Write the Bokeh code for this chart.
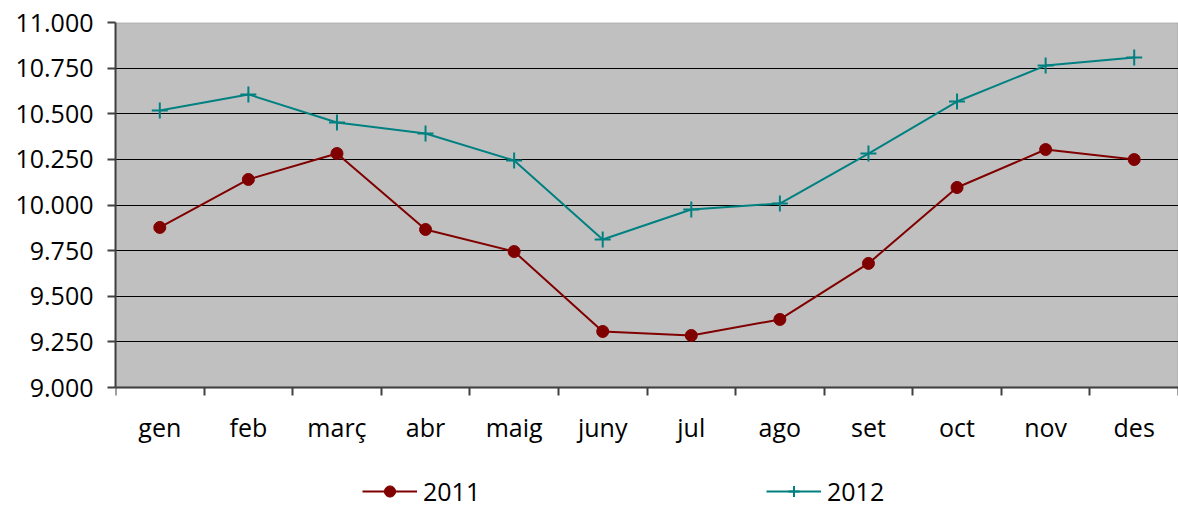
from bokeh.plotting import figure
from bokeh.models import FixedTicker, Legend, LegendItem, BoxAnnotation
from bokeh.embed import file_html
from bokeh.resources import INLINE

months = ["gen", "feb", "març", "abr", "maig", "juny", "jul", "ago", "set", "oct", "nov", "des"]
v2011 = [9877, 10140, 10282, 9866, 9745, 9307, 9285, 9373, 9680, 10096, 10304, 10249]
v2012 = [10518, 10606, 10452, 10392, 10244, 9811, 9975, 10008, 10282, 10567, 10764, 10808]
yticks = list(range(9000, 11001, 250))

x = [i + 0.5 for i in range(len(months))]
FONT = "Open Sans"
YMIN, YMAX = yticks[0], yticks[-1]
AXIS_COLOR = "#404040"

# frame extends below the data area so the legend can sit inside it
p = figure(width=1178, height=508, x_range=(0, 12), y_range=(8337, YMAX),
           output_backend="svg", toolbar_location=None,
           min_border_left=115, min_border_right=0, min_border_top=22, min_border_bottom=0)
p.background_fill_color = "white"
p.border_fill_color = "white"
p.outline_line_color = None

area = BoxAnnotation(left=0, right=12, bottom=YMIN, top=YMAX,
                     fill_color="#C0C0C0", fill_alpha=1,
                     line_color="#808080", line_width=2, level="image")
p.add_layout(area)

# x axis: labels centred in categories, ticks between categories
xa = p.xaxis[0]
xa.fixed_location = YMIN
xa.ticker = FixedTicker(ticks=x, minor_ticks=list(range(13)))
xa.major_label_overrides = {xv: m for xv, m in zip(x, months)}
xa.major_tick_out = 0
xa.major_tick_in = 0
xa.minor_tick_out = 8
xa.minor_tick_in = 0
xa.minor_tick_line_color = AXIS_COLOR
xa.minor_tick_line_width = 2
xa.axis_line_color = AXIS_COLOR
xa.axis_line_width = 2
xa.major_label_text_font = FONT
xa.major_label_text_font_size = "25px"
xa.major_label_text_color = "black"
xa.major_label_standoff = 14

ya = p.yaxis[0]
ya.bounds = (YMIN, YMAX)
ya.ticker = FixedTicker(ticks=yticks, minor_ticks=[])
ya.major_label_overrides = {t: f"{t:,}".replace(",", ".") for t in yticks}
ya.major_tick_out = 8
ya.major_tick_in = 0
ya.major_tick_line_color = AXIS_COLOR
ya.major_tick_line_width = 2
ya.axis_line_color = AXIS_COLOR
ya.axis_line_width = 2
ya.major_label_text_font = FONT
ya.major_label_text_font_size = "25px"
ya.major_label_text_color = "black"
ya.major_label_standoff = 14

p.xgrid.visible = False
p.ygrid.grid_line_color = "black"
p.ygrid.grid_line_width = 1
p.ygrid.bounds = (YMIN, YMAX)

l1 = p.line(x, v2011, line_color="#800000", line_width=2)
s1 = p.scatter(x, v2011, marker="circle", size=12, fill_color="#800000", line_color="#800000")
l2 = p.line(x, v2012, line_color="#008080", line_width=2)
s2 = p.scatter(x, v2012, marker="cross", size=16, line_color="#008080", line_width=2)

legend = Legend(items=[LegendItem(label="2011", renderers=[l1, s1]),
                       LegendItem(label="2012", renderers=[l2, s2])],
                orientation="horizontal", location=(247, 0),
                glyph_width=55, glyph_height=28, label_standoff=6,
                label_width=318, spacing=25, padding=0, margin=0,
                border_line_color=None, background_fill_alpha=0,
                label_text_font=FONT, label_text_font_size="25px",
                label_text_color="black")
p.add_layout(legend, "center")

open("out.html", "w").write(file_html(p, INLINE))
